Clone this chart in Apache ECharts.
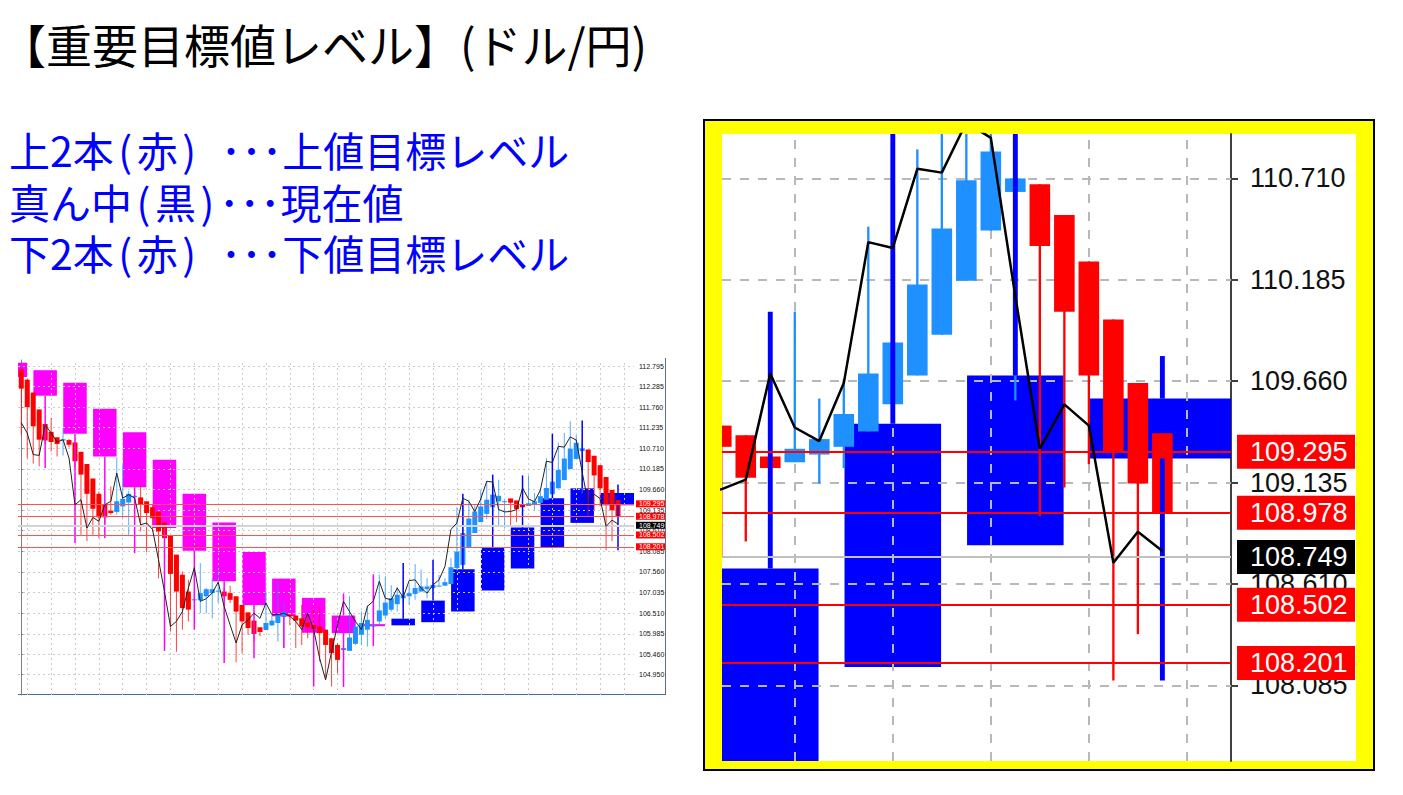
<!DOCTYPE html>
<html><head><meta charset="utf-8">
<script src="https://cdn.jsdelivr.net/npm/echarts@6/dist/echarts.min.js"></script>
<style>html,body{margin:0;padding:0;background:#fff}#c{width:1403px;height:795px}</style>
</head><body><div id="c"></div>
<script>
// ---- data ----
const candleOpen  = [112.72,112.46,112.13,111.70,111.33,111.13,110.99,110.91,110.92,110.86,110.62,110.31,109.94,109.55,109.27,109.12,109.09,109.23,109.33,109.47,109.46,109.36,109.21,109.09,108.82,108.48,108.00,107.49,107.06,106.84,106.84,106.94,107.02,107.06,107.06,107.02,106.94,106.72,106.53,106.32,106.15,106.08,106.20,106.26,106.41,106.47,106.45,106.38,106.27,106.21,106.17,106.09,105.87,105.70,105.57,105.55,105.73,105.96,106.09,106.17,106.30,106.45,106.60,106.74,106.89,106.94,107.00,107.06,107.12,107.15,107.19,107.21,107.25,107.66,107.74,108.17,108.55,108.83,109.04,109.21,109.36,109.34,109.43,109.38,109.27,109.24,109.28,109.32,109.40,109.54,109.69,109.90,110.18,110.44,110.64,110.68,110.52,110.28,109.98,109.65,109.39];
const candleHigh  = [112.75,112.48,112.13,111.70,111.33,111.48,111.00,111.23,110.95,110.86,110.62,110.31,109.94,109.61,109.27,109.74,110.48,110.29,109.63,109.53,109.78,109.36,109.27,109.09,108.82,108.48,108.00,107.57,107.36,107.00,107.79,107.15,107.40,107.68,107.15,107.21,106.94,106.72,106.53,106.32,106.15,107.06,106.45,107.30,106.77,106.49,106.45,106.72,106.47,106.68,106.68,106.09,105.87,105.75,105.70,106.94,106.34,106.55,106.72,107.45,107.49,107.45,107.22,107.18,107.00,107.23,107.76,107.62,107.40,107.30,107.49,107.40,107.91,109.21,109.46,109.40,109.27,109.66,109.88,109.88,109.91,109.40,109.43,109.38,109.27,110.02,109.57,109.67,110.46,109.95,110.86,111.10,111.40,111.05,110.90,110.68,110.52,110.28,109.98,109.65,109.39];
const candleLow   = [111.04,110.46,110.32,110.25,110.80,110.63,110.50,110.53,110.73,110.21,108.51,108.35,108.51,108.42,108.80,109.02,109.02,108.93,108.47,109.36,108.59,108.06,108.59,107.40,108.25,106.04,105.53,106.09,106.30,106.80,106.51,106.51,106.38,106.77,106.89,106.77,105.26,105.49,105.96,105.79,105.92,106.08,106.18,105.79,105.62,106.20,105.62,105.70,105.87,106.00,105.28,104.85,104.64,104.98,105.50,105.55,105.70,105.70,105.66,106.10,106.21,106.38,106.55,106.55,106.80,106.72,106.85,107.06,106.89,107.10,107.19,107.21,107.25,107.57,107.74,108.17,108.55,108.83,108.90,108.85,108.72,108.68,108.75,108.83,109.21,109.24,109.13,109.21,109.40,109.54,109.69,109.90,110.18,110.44,109.56,108.96,109.11,109.23,108.11,108.35,108.98];
const candleClose = [112.23,111.76,111.27,110.93,110.91,110.87,110.82,110.94,110.80,110.38,110.04,109.55,109.17,108.95,108.95,109.06,109.36,109.42,109.55,109.50,109.27,109.06,108.93,108.59,108.42,107.51,107.06,106.64,106.60,106.86,107.02,107.12,107.12,107.08,106.94,106.85,106.55,106.30,106.13,105.98,106.03,106.26,106.32,106.47,106.54,106.43,106.32,106.17,106.15,106.11,106.00,105.70,105.49,105.32,105.62,105.89,106.17,106.26,106.34,106.21,106.58,106.78,106.89,106.98,106.96,107.02,107.15,107.19,107.19,107.23,107.21,107.30,107.68,108.08,108.55,108.92,109.10,109.23,109.40,109.53,109.50,109.36,109.32,109.16,109.21,109.31,109.36,109.49,109.70,109.86,110.16,110.45,110.70,110.85,110.71,110.36,110.02,109.69,109.29,109.13,108.98];
const lineValues  = [111.36,111.10,110.55,110.53,111.31,111.10,110.87,110.93,110.46,109.27,109.40,108.68,108.95,108.85,109.27,109.36,110.08,109.44,109.53,109.44,108.76,108.81,108.64,107.87,107.06,106.17,106.30,106.55,107.15,107.67,106.81,106.88,107.02,107.30,106.68,106.21,105.75,106.21,106.34,106.51,106.38,106.77,106.47,106.47,106.51,106.43,106.30,106.09,106.51,106.09,105.36,104.81,105.53,106.21,106.81,106.55,106.30,106.09,106.68,106.82,107.32,106.89,106.85,107.15,106.91,107.34,107.36,107.15,107.02,107.23,107.36,107.70,108.64,108.81,109.44,109.36,109.10,109.42,109.87,109.85,109.15,109.09,109.10,109.15,109.70,109.42,109.35,109.65,110.38,110.35,110.76,110.74,111.00,110.92,110.10,109.31,109.54,109.43,108.72,108.88,108.78];
// higher-timeframe candles (bar index of their centre)
const htfIndex = [-1,4,9,14,19,24,29,34,39,44,49,54,59,64,69,74,79,84,89,94,100];
const htfOpen  = [112.89,112.70,112.38,111.72,111.12,110.42,109.55,108.82,108.07,107.39,106.90,106.45,106.23,106.20,106.28,106.55,107.09,107.65,108.18,108.81,109.26];
const htfHigh  = [112.95,112.70,112.38,111.72,111.12,110.42,109.55,108.82,108.07,107.39,106.90,107.01,107.50,107.79,107.87,109.55,110.04,110.02,111.08,111.42,109.79];
const htfLow   = [112.53,110.21,108.30,108.42,108.04,105.55,106.09,105.24,105.36,105.62,104.64,104.63,105.67,106.20,106.28,106.55,107.09,107.65,108.18,108.81,108.11];
const htfClose = [112.53,112.05,111.08,110.50,109.72,108.68,108.10,107.32,106.72,106.43,106.01,106.00,106.20,106.37,106.83,107.63,108.19,108.69,109.44,109.69,109.57];
// levels
const upperLevels = [109.295, 108.978];
const currentPrice = 108.749;
const lowerLevels = [108.502, 108.201];
// axis ticks
const yTickLabels = ['112.795','112.285','111.760','111.235','110.710','110.185','109.660','109.135','108.610','108.085','107.560','107.035','106.510','105.985','105.460','104.950'];
const xGridTicks = [1,5,9,13,17,21,25,29,33,37,41,45,49,53,57,61,65,69,73,77,81,85,89,93,97,101];

// ---- build ----
const yTicks = yTickLabels.map(Number);
const candles = candleOpen.map((o, i) => [i, o, candleHigh[i], candleLow[i], candleClose[i]]);
const htf = htfIndex.map((x, i) => [x, htfOpen[i], htfHigh[i], htfLow[i], htfClose[i]]);
const linePts = lineValues.map((v, i) => [i, v]);

const VIEWS = [
  {left: 18, top: 360, width: 616, height: 335, xMin: -0.55, xMax: 102.68, yMin: 104.425, yMax: 112.96,
   wick: 0.095, wickMin: 1, wickOp: 0.75, bodyMin: 1, htfWick: 0.2, htfWickMin: 1.5, lineW: 1, lineColor: '#222',
   grid: {color: '#cccccc', width: 1, type: [2, 3]}, levelW: 1, levelColor: '#ff5050', curW: 2, curColor: '#d4d4d4',
   font: 7, labelMargin: 5, tickLen: 3, axisColor: '#808080', axisW: 1,
   lvLabel: {distance: 2, padding: [1, 2, 0, 3], width: 24, lineHeight: 6}},
  {left: 722, top: 134, width: 509, height: 627, xMin: 82.03, xMax: 102.8, yMin: 107.693, yMax: 110.94,
   wick: 0.095, wickMin: 1, wickOp: 1, bodyMin: 3, htfWick: 0.2, htfWickMin: 1.5, lineW: 2.5, lineColor: '#000',
   grid: {color: '#b8b8b8', width: 2, type: [9, 9]}, levelW: 2, levelColor: '#ff0000', curW: 2, curColor: '#c0c0c0',
   font: 27, labelMargin: 19, tickLen: 7, axisColor: '#404040', axisW: 2,
   lvLabel: {distance: 6, padding: [4, 7, 3, 13], width: 98, lineHeight: 27}}
];

function candleRender(v) {
  return function (params, api) {
    const x = api.value(0), o = api.value(1), h = api.value(2), l = api.value(3), c = api.value(4);
    const slot = api.size([1, 0])[0];
    const pO = api.coord([x, o]), pC = api.coord([x, c]), pH = api.coord([x, h]), pL = api.coord([x, l]);
    const color = c >= o ? '#1E90FF' : '#FF0000';
    const bw = slot * 0.84, ww = Math.max(v.wickMin, slot * v.wick);
    const top = Math.min(pO[1], pC[1]), bot = Math.max(pO[1], pC[1]);
    const bh = Math.max(bot - top, v.bodyMin);
    return {type: 'group', children: [
      {type: 'rect', shape: {x: pO[0] - ww / 2, y: pH[1], width: ww, height: Math.max(pL[1] - pH[1], 0)}, style: {fill: color, opacity: v.wickOp}},
      {type: 'rect', shape: {x: pO[0] - bw / 2, y: (top + bot) / 2 - bh / 2, width: bw, height: bh}, style: {fill: color}}
    ]};
  };
}
// higher-timeframe bodies (drawn under the grid) and wicks (drawn over the bars)
function htfBodyRender(v) {
  return function (params, api) {
    const x = api.value(0), o = api.value(1), c = api.value(4);
    const slot = api.size([1, 0])[0];
    const live = params.dataIndex === htfIndex.length - 1;
    const half = (live ? 3 : 1.97) * slot;
    const pO = api.coord([x, o]), pC = api.coord([x, c]);
    const top = Math.min(pO[1], pC[1]), bot = Math.max(pO[1], pC[1]);
    return {type: 'rect', shape: {x: pO[0] - half, y: top, width: half * 2, height: Math.max(bot - top, 2)},
      style: {fill: c >= o ? '#0000FF' : '#FF00FF'}};
  };
}
function htfWickRender(v) {
  return function (params, api) {
    const x = api.value(0), o = api.value(1), h = api.value(2), l = api.value(3), c = api.value(4);
    const slot = api.size([1, 0])[0];
    const pH = api.coord([x, h]), pL = api.coord([x, l]);
    const pTop = api.coord([x, Math.max(o, c)]), pBot = api.coord([x, Math.min(o, c)]);
    const ww = Math.max(v.htfWickMin, slot * v.htfWick);
    const fill = c >= o ? '#0000FF' : '#FF00FF';
    return {type: 'group', children: [
      {type: 'rect', shape: {x: pH[0] - ww / 2, y: pH[1], width: ww, height: Math.max(pTop[1] - pH[1], 0)}, style: {fill: fill}},
      {type: 'rect', shape: {x: pH[0] - ww / 2, y: pBot[1], width: ww, height: Math.max(pL[1] - pBot[1], 0)}, style: {fill: fill}}
    ]};
  };
}

const grids = [], xAxes = [], yAxes = [], series = [];
VIEWS.forEach((v, k) => {
  const inY = yTicks.filter(t => t >= v.yMin && t <= v.yMax);
  const inX = xGridTicks.filter(t => t >= v.xMin && t <= v.xMax);
  grids.push({left: v.left, top: v.top, width: v.width, height: v.height, containLabel: false});
  xAxes.push({gridIndex: k, type: 'value', min: v.xMin, max: v.xMax, show: false});
  yAxes.push({gridIndex: k, type: 'value', position: 'right', min: v.yMin, max: v.yMax, scale: true,
    splitLine: {show: false},
    axisLine: {show: true, lineStyle: {color: v.axisColor, width: v.axisW}},
    axisTick: {show: true, customValues: inY, length: v.tickLen, lineStyle: {color: v.axisColor, width: v.axisW}},
    axisLabel: {show: true, customValues: inY, formatter: val => Number(val).toFixed(3), fontSize: v.font,
      fontFamily: 'Liberation Sans', color: '#111', margin: v.labelMargin}});
  series.push({type: 'custom', name: 'htfBody' + k, xAxisIndex: k, yAxisIndex: k, data: htf, z: 1, clip: true, silent: true,
    encode: {x: 0, y: [1, 2, 3, 4]}, renderItem: htfBodyRender(v)});
  series.push({type: 'line', name: 'grid' + k, xAxisIndex: k, yAxisIndex: k, data: [], z: 2, silent: true,
    markLine: {z: 2, symbol: 'none', silent: true, animation: false, precision: 3, label: {show: false},
      lineStyle: {color: v.grid.color, width: v.grid.width, type: v.grid.type},
      data: inY.map(t => ({yAxis: t})).concat(inX.map(t => ({xAxis: t})))}});
  series.push({type: 'custom', name: 'bars' + k, xAxisIndex: k, yAxisIndex: k, data: candles, z: 3, clip: true, silent: true,
    encode: {x: 0, y: [1, 2, 3, 4]}, renderItem: candleRender(v)});
  series.push({type: 'custom', name: 'htfWick' + k, xAxisIndex: k, yAxisIndex: k, data: htf, z: 3.5, clip: true, silent: true,
    encode: {x: 0, y: [1, 2, 3, 4]}, renderItem: htfWickRender(v)});
  const lbl = (bg) => Object.assign({show: true, position: 'end', formatter: p => Number(p.value).toFixed(3),
    color: '#fff', fontSize: v.font, fontFamily: 'Liberation Sans', backgroundColor: bg, align: 'left'}, v.lvLabel);
  const lvData = [{yAxis: currentPrice, lineStyle: {color: v.curColor, width: v.curW, type: 'solid'}, label: lbl('#000000')}]
    .concat(upperLevels.concat(lowerLevels).map(t => ({yAxis: t, lineStyle: {color: v.levelColor, width: v.levelW, type: 'solid'}, label: lbl('#ff0000')})));
  series.push({type: 'line', name: 'levels' + k, xAxisIndex: k, yAxisIndex: k, data: [], z: 4, silent: true,
    markLine: {z: 4, symbol: 'none', silent: true, animation: false, precision: 3, data: lvData}});
  series.push({type: 'line', name: 'line' + k, xAxisIndex: k, yAxisIndex: k, data: linePts, z: 6, silent: true,
    symbol: 'none', showSymbol: false, clip: true, lineStyle: {color: v.lineColor, width: v.lineW}});
});

const jpFamily = 'Noto Sans CJK JP';
function jpText(x, y, text, size, color, rich) {
  const base = {fontSize: size, fontFamily: jpFamily, fill: color, lineHeight: size + 2};
  const r = {};
  Object.keys(rich).forEach(key => { r[key] = Object.assign({fontSize: size, fontFamily: jpFamily, fill: color, lineHeight: size + 2}, rich[key]); });
  return {type: 'text', x: x, y: y, style: Object.assign({text: text, align: 'left', verticalAlign: 'middle', rich: r}, base)};
}
const blueRich = {p: {width: 23, align: 'center'}, s: {width: 20}};

const chart = echarts.init(document.getElementById('c'), null, {renderer: 'svg'});
chart.setOption({
  animation: false,
  backgroundColor: '#ffffff',
  grid: grids, xAxis: xAxes, yAxis: yAxes, series: series,
  graphic: [
    {type: 'rect', z: -2, shape: {x: 704, y: 120, width: 670, height: 650}, style: {fill: '#ffff00', stroke: '#000', lineWidth: 2}},
    {type: 'rect', z: -1, shape: {x: 722, y: 134, width: 634, height: 627}, style: {fill: '#ffffff'}},
    {type: 'line', z: -1, shape: {x1: 18, y1: 694.5, x2: 666, y2: 694.5}, style: {stroke: '#3f6f9f', lineWidth: 1}},
    {type: 'line', z: -1, shape: {x1: 665.5, y1: 358, x2: 665.5, y2: 695}, style: {stroke: '#5a6f90', lineWidth: 1}},
    {type: 'text', x: 0, y: 43, style: {text: '【重要目標値レベル】(ドル/円)', fontSize: 46, fontFamily: jpFamily, fill: '#000', align: 'left', verticalAlign: 'middle'}},
    jpText(9, 149, '上2本{p|(}赤{p|)}{s| }･･･上値目標レベル', 41, '#0000ff', blueRich),
    jpText(9, 201, '真ん中{p|(}黒{p|)}･･･現在値', 41, '#0000ff', blueRich),
    jpText(9, 252, '下2本{p|(}赤{p|)}{s| }･･･下値目標レベル', 41, '#0000ff', blueRich)
  ]
});
</script></body></html>
